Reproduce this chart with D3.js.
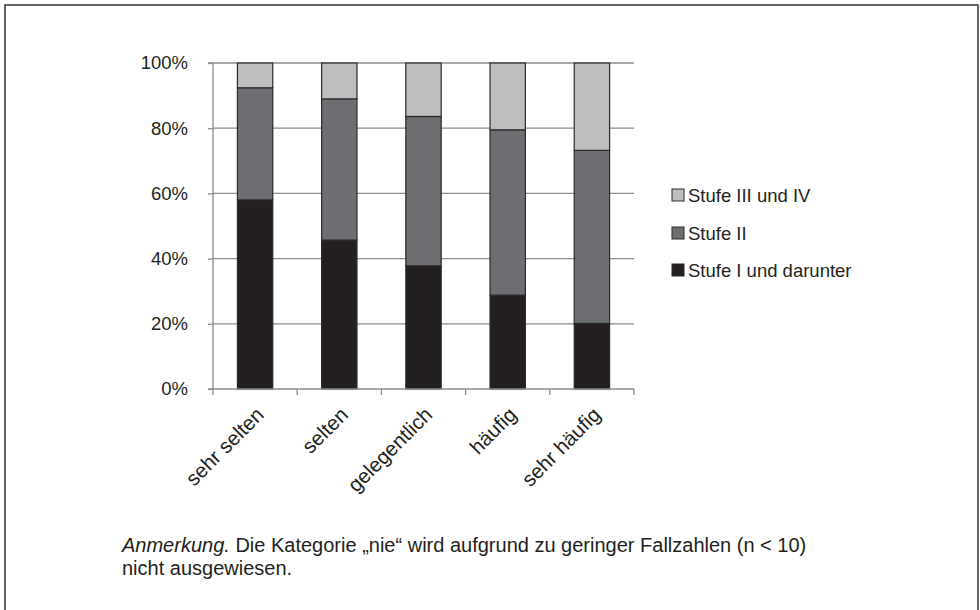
<!DOCTYPE html>
<html>
<head>
<meta charset="utf-8">
<script src="https://cdn.jsdelivr.net/npm/d3@7"></script>
<style>
  body { margin: 0; background: #fff; }
  svg { font-family: "Liberation Sans", Arial, sans-serif; }
</style>
</head>
<body>
<svg id="chart" width="980" height="610"></svg>
<script>
// values (percent)
var categories = ["sehr selten", "selten", "gelegentlich", "häufig", "sehr häufig"];
var seriesNames = ["Stufe I und darunter", "Stufe II", "Stufe III und IV"];
var stufe1 = [58.0, 45.7, 37.8, 28.8, 20.1];
var stufe2 = [34.4, 43.3, 45.8, 50.7, 53.1];
var stufe3 = [7.6, 11.0, 16.4, 20.5, 26.8];
var yTicks = [0, 20, 40, 60, 80, 100];
var colors = ["#231f20", "#6d6e71", "#bcbec0"];

var svg = d3.select("#chart");

// outer frame
svg.append("path")
  .attr("d", "M5,612V5H978V612")
  .attr("fill", "none")
  .attr("stroke", "#333")
  .attr("stroke-width", 1.5);

var plotLeft = 213, plotRight = 634, plotTop = 63, plotBottom = 389;
var fontSize = 18.5;

var x = d3.scaleBand()
  .domain(categories)
  .range([plotLeft, plotRight])
  .paddingInner(0.58)
  .paddingOuter(0.29);

var y = d3.scaleLinear()
  .domain([0, 100])
  .range([plotBottom, plotTop]);

// gridlines
svg.append("g")
  .selectAll("line")
  .data(yTicks.slice(1))
  .enter().append("line")
  .attr("x1", plotLeft)
  .attr("x2", plotRight)
  .attr("y1", function (d) { return y(d); })
  .attr("y2", function (d) { return y(d); })
  .attr("stroke", "#8c8c8c")
  .attr("stroke-width", 1.3);

var table = categories.map(function (c, i) {
  return { cat: c, s0: stufe1[i], s1: stufe2[i], s2: stufe3[i] };
});
var stack = d3.stack().keys(["s0", "s1", "s2"])(table);

svg.append("g")
  .selectAll("g")
  .data(stack)
  .enter().append("g")
  .attr("fill", function (d, i) { return colors[i]; })
  .selectAll("rect")
  .data(function (d) { return d; })
  .enter().append("rect")
  .attr("x", function (d) { return x(d.data.cat); })
  .attr("width", x.bandwidth())
  .attr("y", function (d) { return y(d[1]); })
  .attr("height", function (d) { return y(d[0]) - y(d[1]); })
  .attr("stroke", "#2a2a2a")
  .attr("stroke-width", 1.2);

// y axis
var yAxis = d3.axisLeft(y)
  .tickValues(yTicks)
  .tickSize(5)
  .tickPadding(20)
  .tickFormat(function (d) { return d + "%"; });

var gy = svg.append("g")
  .attr("transform", "translate(" + plotLeft + ",0)")
  .call(yAxis);
gy.select(".domain").attr("stroke", "#8c8c8c").attr("stroke-width", 1.3)
  .attr("d", "M-5," + y(100) + "H0V" + y(0) + "H-5");
gy.selectAll(".tick line").attr("stroke", "#8c8c8c").attr("stroke-width", 1.3);
gy.selectAll(".tick text").attr("font-size", fontSize).attr("fill", "#231f20")
  .attr("font-family", "Liberation Sans, Arial, sans-serif");

// x axis with ticks at band boundaries
var step = x.step();
var boundaries = d3.range(categories.length + 1).map(function (i) { return plotLeft + i * step; });
var gx = svg.append("g");
gx.append("line")
  .attr("x1", plotLeft).attr("x2", plotRight)
  .attr("y1", plotBottom).attr("y2", plotBottom)
  .attr("stroke", "#8c8c8c").attr("stroke-width", 1.3);
gx.selectAll(".tk")
  .data(boundaries)
  .enter().append("line")
  .attr("class", "tk")
  .attr("x1", function (d) { return d; })
  .attr("x2", function (d) { return d; })
  .attr("y1", plotBottom)
  .attr("y2", plotBottom + 6)
  .attr("stroke", "#8c8c8c").attr("stroke-width", 1.3);

gx.selectAll("text")
  .data(categories)
  .enter().append("text")
  .attr("transform", function (d) {
    return "translate(" + (x(d) + x.bandwidth() / 2 + 10) + "," + (plotBottom + 27) + ") rotate(-45)";
  })
  .attr("text-anchor", "end")
  .attr("font-size", 20.5)
  .attr("fill", "#231f20")
  .text(function (d) { return d; });

// legend (reverse order)
var legend = svg.append("g").attr("transform", "translate(672,0)");
var legY = [195, 233, 270];
[2, 1, 0].forEach(function (si, row) {
  var g = legend.append("g").attr("transform", "translate(0," + legY[row] + ")");
  g.append("rect")
    .attr("x", 0).attr("y", -6)
    .attr("width", 12).attr("height", 12)
    .attr("fill", colors[si])
    .attr("stroke", "#2a2a2a").attr("stroke-width", 1);
  g.append("text")
    .attr("x", 16).attr("y", 6.5)
    .attr("font-size", fontSize)
    .attr("fill", "#231f20")
    .text(seriesNames[si]);
});

// note
var noteSize = 20;
var note = svg.append("text")
  .attr("x", 122).attr("y", 552)
  .attr("font-size", noteSize)
  .attr("fill", "#231f20");
note.append("tspan").attr("font-style", "italic").text("Anmerkung.");
note.append("tspan").text(" Die Kategorie „nie“ wird aufgrund zu geringer Fallzahlen (n < 10)");
svg.append("text")
  .attr("x", 122).attr("y", 575)
  .attr("font-size", noteSize)
  .attr("fill", "#231f20")
  .text("nicht ausgewiesen.");
</script>
</body>
</html>
